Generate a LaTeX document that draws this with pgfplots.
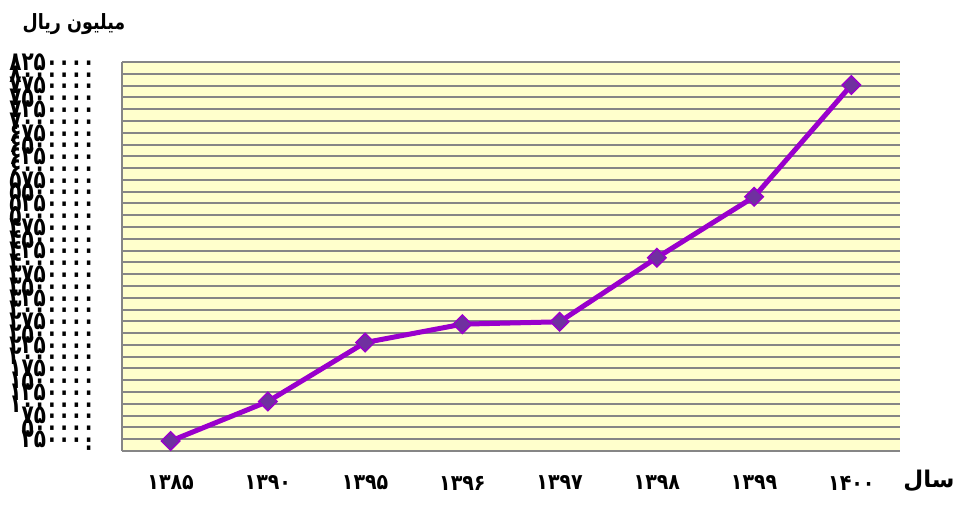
\documentclass[border=0pt]{standalone}
\usepackage{graphicx}
\usepackage{pgfplots}
\pgfplotsset{compat=1.18}
\usepackage{fontspec}
\setmainfont{DejaVu Sans}
\newfontfamily\fa[Script=Arabic]{DejaVu Sans}
\TeXXeTstate=1
\definecolor{bgy}{HTML}{FFFFCC}
\definecolor{gridg}{HTML}{868686}
\definecolor{lineP}{HTML}{9900CC}
\definecolor{markP}{HTML}{7030A0}
\newcommand{\yl}[1]{\scalebox{1}[1.3]{#1}}
\newcommand{\xl}[1]{\scalebox{1}[1.15]{#1}}
\begin{document}
\begin{tikzpicture}[x=1pt,y=1pt]
\path[use as bounding box] (0,0) rectangle (959,508);
\begin{axis}[
  at={(122pt,57pt)}, anchor=south west,
  scale only axis, width=778pt, height=389pt,
  xmin=-0.5, xmax=7.5, ymin=0, ymax=8250000,
  axis x line*=bottom, axis y line*=left,
  axis line style={gridg, line width=2pt},
  axis background/.style={fill=bgy},
  xtick={0,1,2,3,4,5,6,7},
  xticklabels={\xl{۱۳۸۵},\xl{۱۳۹۰},\xl{۱۳۹۵},\xl{۱۳۹۶},\xl{۱۳۹۷},\xl{۱۳۹۸},\xl{۱۳۹۹},\xl{۱۴۰۰}},
  ytick={0,250000,500000,750000,1000000,1250000,1500000,1750000,2000000,2250000,2500000,2750000,3000000,3250000,3500000,3750000,4000000,4250000,4500000,4750000,5000000,5250000,5500000,5750000,6000000,6250000,6500000,6750000,7000000,7250000,7500000,7750000,8000000,8250000},
  yticklabels={\yl{۰},\yl{۲۵۰۰۰۰},\yl{۵۰۰۰۰۰},\yl{۷۵۰۰۰۰},\yl{۱۰۰۰۰۰۰},\yl{۱۲۵۰۰۰۰},\yl{۱۵۰۰۰۰۰},\yl{۱۷۵۰۰۰۰},\yl{۲۰۰۰۰۰۰},\yl{۲۲۵۰۰۰۰},\yl{۲۵۰۰۰۰۰},\yl{۲۷۵۰۰۰۰},\yl{۳۰۰۰۰۰۰},\yl{۳۲۵۰۰۰۰},\yl{۳۵۰۰۰۰۰},\yl{۳۷۵۰۰۰۰},\yl{۴۰۰۰۰۰۰},\yl{۴۲۵۰۰۰۰},\yl{۴۵۰۰۰۰۰},\yl{۴۷۵۰۰۰۰},\yl{۵۰۰۰۰۰۰},\yl{۵۲۵۰۰۰۰},\yl{۵۵۰۰۰۰۰},\yl{۵۷۵۰۰۰۰},\yl{۶۰۰۰۰۰۰},\yl{۶۲۵۰۰۰۰},\yl{۶۵۰۰۰۰۰},\yl{۶۷۵۰۰۰۰},\yl{۷۰۰۰۰۰۰},\yl{۷۲۵۰۰۰۰},\yl{۷۵۰۰۰۰۰},\yl{۷۷۵۰۰۰۰},\yl{۸۰۰۰۰۰۰},\yl{۸۲۵۰۰۰۰}},
  scaled y ticks=false,
  ymajorgrids, major grid style={gridg, line width=2pt},
  major tick length=0pt, tick style={draw=none},
  xticklabel style={font=\fa\bfseries\fontsize{19}{19}\selectfont, inner sep=0pt, anchor=center, yshift=-32pt},
  yticklabel style={font=\fa\bfseries\fontsize{20}{20}\selectfont, inner sep=0pt, anchor=east, xshift=-27pt},
  clip=false,
]
\addplot[lineP, line width=5pt, mark=square*, mark size=6.5pt,
  mark options={rotate=45, fill=markP, draw=lineP, line width=1.5pt}]
  coordinates {(0,212000) (1,1050000) (2,2300000) (3,2690000) (4,2740000) (5,4100000) (6,5390000) (7,7760000)};
\end{axis}
\node[font=\fa\bfseries\fontsize{17.5}{17.5}\selectfont, inner sep=0pt] at (74,484) {\scalebox{1}[1.2]{\beginR میلیون ریال\endR}};
\node[font=\fa\bfseries\fontsize{23}{23}\selectfont, inner sep=0pt] at (929,27) {\beginR سال\endR};
\end{tikzpicture}
\end{document}
